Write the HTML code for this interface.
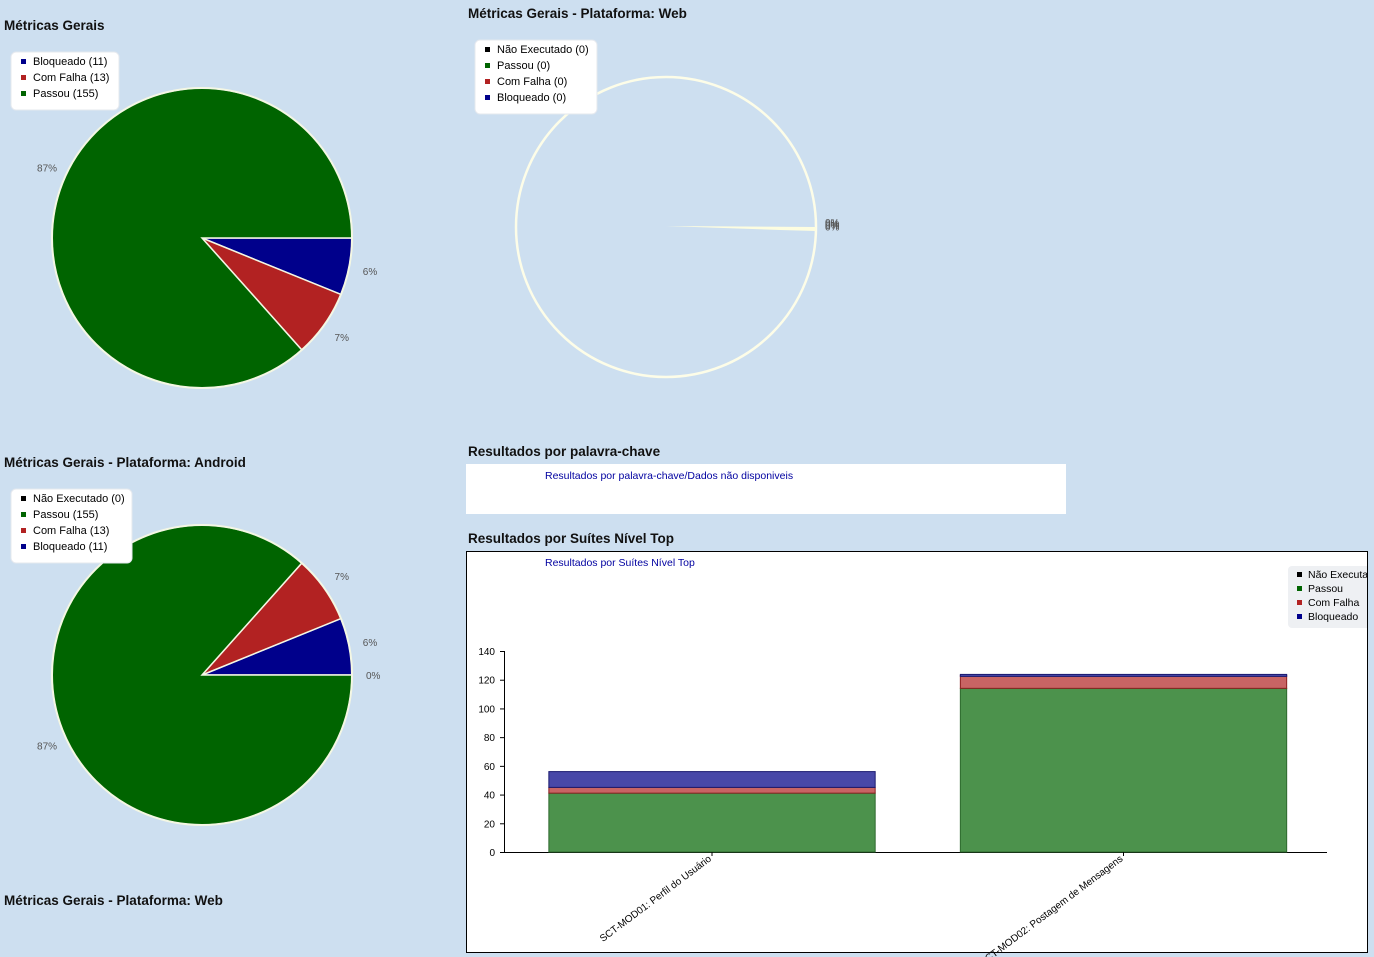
<!DOCTYPE html>
<html><head><meta charset="utf-8">
<style>
html,body{margin:0;padding:0;background:#cddff0;width:1374px;height:957px;overflow:hidden;font-family:"Liberation Sans","DejaVu Sans",sans-serif;}
svg{position:absolute;left:0;top:0;}
.t{font-weight:bold;font-size:13.5px;fill:#111;}
.s{font-size:11px;fill:#000;}
.p{font-size:10px;fill:#555;}
</style></head>
<body>
<svg id="c" width="1374" height="957" xmlns="http://www.w3.org/2000/svg">
<text class="t" x="4" y="30">Métricas Gerais</text>
<text class="t" x="468" y="18">Métricas Gerais - Plataforma: Web</text>
<text class="t" x="4" y="467">Métricas Gerais - Plataforma: Android</text>
<text class="t" x="4" y="905">Métricas Gerais - Plataforma: Web</text>
<text class="t" x="468" y="456">Resultados por palavra-chave</text>
<rect x="466" y="464" width="600" height="50" fill="#fff"/>
<text x="545" y="479" font-size="10.5" fill="#0000a0">Resultados por palavra-chave/Dados não disponiveis</text>
<text class="t" x="468" y="543">Resultados por Suítes Nível Top</text>
<rect x="466.5" y="551.5" width="901" height="401" fill="#fff" stroke="#000"/>
<text x="545" y="566" font-size="10.5" fill="#0000a0">Resultados por Suítes Nível Top</text>
<g id="dyn"></g>
</svg>
<script>
const pieLabels1=["Bloqueado","Com Falha","Passou"];
const pieValues1=[11,13,155];
const pieLabels2=["Não Executado","Passou","Com Falha","Bloqueado"];
const pieValues2=[0,155,13,11];
const pieValues3=[0,0,0,0];
const categories=["SCT-MOD01: Perfil do Usuário","SCT-MOD02: Postagem de Mensagens"];
const passed=[41,114];
const failed=[4,9];
const blocked=[11,0];
const notRun=[0,0];
const yTicks=[0,20,40,60,80,100,120,140];
const barLegend=["Não Executado","Passou","Com Falha","Bloqueado"];

const NS="http://www.w3.org/2000/svg";
const g=document.getElementById('dyn');
function el(t,a,txt){const e=document.createElementNS(NS,t);for(const k in a)e.setAttribute(k,a[k]);if(txt!=null)e.textContent=txt;g.appendChild(e);return e;}
const col={"Bloqueado":"#00008b","Com Falha":"#b22222","Passou":"#006400","Não Executado":"#000"};

function legend(x,y,w,labels,vals,prefix){
  const r=el('rect',{x:x,y:y,width:w,height:labels.length*16+10,rx:5,fill:'#fff',stroke:'#e4e8ee'});
  
  
  labels.forEach((l,i)=>{
    const s=el('rect',{x:x+10,y:y+7+i*16,width:5,height:5,fill:col[l]});
    
    
    const t=el('text',{x:x+22,y:y+13+i*16,class:'s'},l+(vals?' ('+vals[i]+')':''));
    
    
  });
}
function pie(cx,cy,R,labels,vals,dir,prefix){
  const tot=vals.reduce((a,b)=>a+b,0);
  let a=0;
  labels.forEach((l,i)=>{
    const v=vals[i]; const frac=tot?v/tot:0;
    const a0=a, a1=a+frac*2*Math.PI*dir; a=a1;
    if(frac>0){
      const x0=cx+R*Math.cos(a0),y0=cy+R*Math.sin(a0),x1=cx+R*Math.cos(a1),y1=cy+R*Math.sin(a1);
      const large=frac>0.5?1:0, sw=dir>0?1:0;
      const p=el('path',{d:`M${cx},${cy}L${x0},${y0}A${R},${R} 0 ${large} ${sw} ${x1},${y1}Z`,fill:col[l],stroke:'#f4f7e4','stroke-width':1.5});
      
      
    }
    const am=(a0+a1)/2, lr=R+22;
    const t=el('text',{x:cx+lr*Math.cos(am)-8,y:cy+lr*Math.sin(am)+4,class:'p'},Math.round(frac*100)+'%');
    
    
  });
  const o=el('circle',{cx:cx,cy:cy,r:R,fill:'none',stroke:'#f4f7e4','stroke-width':2});
  
  
}
pie(202,238,150,pieLabels1,pieValues1,1,'general-pie');
legend(11,52,108,pieLabels1,pieValues1,'general-pie');
pie(202,675,150,pieLabels2.slice().reverse(),pieValues2.slice().reverse(),-1,'android-pie');
legend(11,489,121,pieLabels2,pieValues2,'android-pie');
const wc=el('circle',{cx:666,cy:227,r:150,fill:'none',stroke:'#fdfde8','stroke-width':2.5});


const wl=el('path',{d:'M666,226L816,227L816,231L780,230Z',fill:'#fdfde0'});


pieValues3.forEach((v,i)=>{
  const t=el('text',{x:825,y:226+i*1.5,class:'p'},'0%');
  
  
});
legend(475,40,122,pieLabels2,pieValues3,'web-pie');

const X0=504,X1=1327,Y0=852,Y1=651,YMAX=140;
const y=v=>Y0-(v/YMAX)*(Y0-Y1);
const slot=(X1-X0)/categories.length;
const bx=i=>X0+slot*i+slot*0.109;
const bw=slot*0.793;
const ax=el('path',{d:`M${X0}.5,${Y1}V${Y0}.5H${X1}`,stroke:'#000',fill:'none'});


yTicks.forEach(v=>{
  const tk=el('line',{x1:X0-4,x2:X0,y1:y(v)+0.5,y2:y(v)+0.5,stroke:'#000'});
  
  
  const t=el('text',{x:X0-9,y:y(v)+4,'font-size':10,'text-anchor':'end'},v);
  
  
});
const series=[[passed,'#4c924c','#2e6a2e','passed'],[failed,'#c86464','#8b2020','failed'],[blocked,'#4848a8','#1a1a70','blocked'],[notRun,'#222','#000','not-run']];
categories.forEach((c,i)=>{
  let base=0;
  series.forEach(([arr,f,s,n])=>{
    const v=arr[i];
    if(v>0||n==='blocked'){
      const r=el('rect',{x:bx(i),y:y(base+v)-(v>0?0:1),width:bw,height:Math.max(y(base)-y(base+v),v>0?0:2),fill:f,stroke:s,'stroke-width':1});
      
      
    }
    base+=v;
  });
  const cx=bx(i)+bw/2;
  const tk=el('line',{x1:cx,x2:cx,y1:Y0,y2:Y0+4,stroke:'#000'});
  
  
  const t=el('text',{x:cx,y:Y0+8,'font-size':10,'text-anchor':'end',transform:`rotate(-37 ${cx} ${Y0+8})`},c);
  
  
});
const bl=el('rect',{x:1288,y:566,width:90,height:62,rx:4,fill:'#eef0f3'});


barLegend.forEach((l,i)=>{
  const s=el('rect',{x:1297,y:572+i*14,width:5,height:5,fill:col[l]});
  
  
  const t=el('text',{x:1308,y:578+i*14,'font-size':10.5},l);
  
  
});
const cover=el('rect',{x:1368,y:560,width:10,height:80,fill:'#cddff0'});


const edge=el('line',{x1:1367.5,x2:1367.5,y1:551,y2:953,stroke:'#000'});


</script>
</body></html>
